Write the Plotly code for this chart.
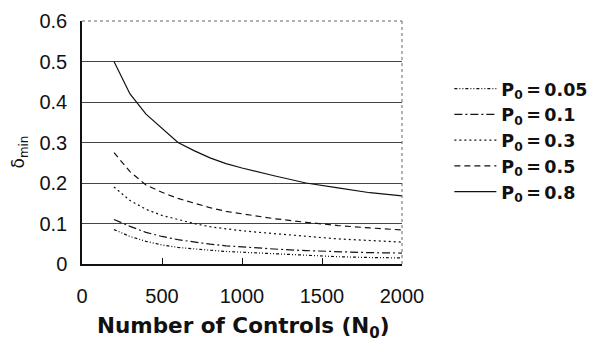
import plotly.graph_objects as go

controls = [200, 300, 400, 500, 600, 700, 800, 900, 1000, 1200, 1400, 1600, 1800, 2000]
p005 = [0.085, 0.068, 0.056, 0.047, 0.041, 0.037, 0.034, 0.031, 0.029, 0.025, 0.021, 0.018, 0.016, 0.015]
p01 = [0.110, 0.093, 0.078, 0.068, 0.060, 0.054, 0.049, 0.045, 0.042, 0.037, 0.033, 0.030, 0.028, 0.027]
p03 = [0.190, 0.157, 0.135, 0.120, 0.110, 0.100, 0.092, 0.087, 0.082, 0.075, 0.068, 0.062, 0.058, 0.054]
p05 = [0.275, 0.228, 0.195, 0.177, 0.162, 0.150, 0.139, 0.130, 0.124, 0.112, 0.103, 0.095, 0.089, 0.084]
p08 = [0.500, 0.420, 0.370, 0.335, 0.300, 0.280, 0.262, 0.248, 0.237, 0.218, 0.200, 0.188, 0.176, 0.168]

series_names = ["P<sub>0</sub>\u2009=\u20090.05", "P<sub>0</sub>\u2009=\u20090.1",
                "P<sub>0</sub>\u2009=\u20090.3", "P<sub>0</sub>\u2009=\u20090.5",
                "P<sub>0</sub>\u2009=\u20090.8"]
series_vals = [p005, p01, p03, p05, p08]
dashes = ["3px,2px,1px,2px,1px,2px", "8px,3px,2px,3px", "2px,3px", "6px,4px", "solid"]

x_ticks = [0, 500, 1000, 1500, 2000]
y_ticks = [0, 0.1, 0.2, 0.3, 0.4, 0.5, 0.6]
y_tick_text = ["0", "0.1", "0.2", "0.3", "0.4", "0.5", "0.6"]

fig = go.Figure()
for name, vals, dash in zip(series_names, series_vals, dashes):
    fig.add_trace(go.Scatter(x=controls, y=vals, mode="lines", name=name,
                             line=dict(color="#111", width=1.2, dash=dash)))

tick_font = dict(family="Liberation Sans", size=20, color="#111")

fig.update_layout(
    width=587, height=338,
    margin=dict(l=74, r=193, t=13, b=82, autoexpand=False),
    paper_bgcolor="white", plot_bgcolor="white",
    showlegend=True,
    legend=dict(x=1.148, xanchor="left", y=0.795, yanchor="top",
                font=dict(family="DejaVu Sans", size=17.5, color="#111", weight="bold"),
                itemwidth=42, bgcolor="rgba(0,0,0,0)", tracegroupgap=0),
    xaxis=dict(range=[0, 2000], tickvals=x_ticks, showgrid=False, zeroline=False,
               showline=True, linecolor="#111", linewidth=1.5, automargin=False,
               ticks="inside", ticklen=6, tickcolor="#111",
               tickfont=tick_font, ticklabelstandoff=13),
    yaxis=dict(range=[0, 0.6], tickvals=y_ticks, ticktext=y_tick_text,
               showgrid=True, gridcolor="#444", gridwidth=1, zeroline=False,
               showline=True, linecolor="#111", linewidth=1.5, automargin=False,
               ticks="", tickfont=tick_font, ticklabelstandoff=9),
    shapes=[
        dict(type="line", xref="paper", yref="paper", x0=0, x1=1, y0=1, y1=1,
             line=dict(color="#666", width=1, dash="dot")),
        dict(type="line", xref="paper", yref="paper", x0=1, x1=1, y0=0, y1=1,
             line=dict(color="#666", width=1, dash="dot")),
    ],
    annotations=[
        dict(text="Number of Controls (N<sub>0</sub>)", xref="paper", yref="paper",
             x=0.505, y=-0.262, xanchor="center", yanchor="middle", showarrow=False,
             font=dict(family="DejaVu Sans", size=21.5, color="#111", weight="bold")),
        dict(text="δ<sub>min</sub>", xref="paper", yref="paper", textangle=-90,
             x=-0.196, y=0.46, xanchor="center", yanchor="middle", showarrow=False,
             font=dict(family="DejaVu Sans", size=17, color="#111")),
    ],
)

fig.write_html("out.html")
